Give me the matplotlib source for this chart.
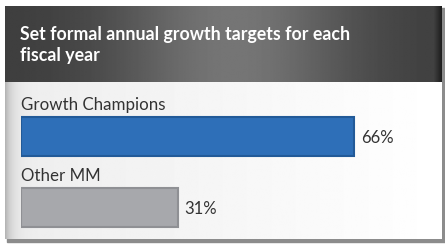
import matplotlib.pyplot as plt
import numpy as np

plt.rcParams.update({
    "font.family": ["Lato", "DejaVu Sans"],
    "figure.dpi": 100,
})

title = "Set formal annual growth targets for each\nfiscal year"
categories = ["Growth Champions", "Other MM"]
values = [66, 31]
bar_colors = ["#2e6fb8", "#a7a8ac"]
edge_colors = ["#225a98", "#8f9094"]

W, H = 445, 244
fig = plt.figure(figsize=(W / 100, H / 100), dpi=100)
fig.patch.set_facecolor("white")

# background panel drawn in pixel coordinates
bg = fig.add_axes([0, 0, 1, 1])
bg.set_xlim(0, W)
bg.set_ylim(H, 0)
bg.axis("off")

# shadow on right and bottom
bg.add_patch(plt.Rectangle((7, 8), 438, 234, color="#8c8c8c", zorder=0))

# body gradient: grey at left fading to white
xs = np.linspace(0, 1, 400)
body = np.clip(0.93 + 0.07 * xs, 0, 1)
left = np.exp(-xs * 400 / 6)
body = body - 0.22 * left
body_img = np.tile(body, (10, 1))
bg.imshow(body_img, cmap="gray", vmin=0, vmax=1, extent=(5, 442, 239, 82),
          aspect="auto", zorder=1, interpolation="bilinear")

# header gradient: dark edges, lighter middle
hx = np.linspace(-1, 1, 400)
head = 0.24 + 0.22 * np.exp(-((hx - 0.05) / 0.55) ** 2)
head[-8:] = np.linspace(head[-9], 0.12, 8)
head_img = np.tile(head, (10, 1))
bg.imshow(head_img, cmap="gray", vmin=0, vmax=1, extent=(5, 442, 82, 6),
          aspect="auto", zorder=1, interpolation="bilinear")

bg.text(20, 45, title, color="white", fontsize=12.8, fontweight="bold",
        va="center", ha="left", linespacing=1.3, zorder=3)

# bar axes: row 0 centred at y=136.5 px, row 1 at 207.5 px
px = 71.0
ax = fig.add_axes([21 / W, 1 - 240 / H, (405 - 21) / W, (240 - 90) / H])
ax.patch.set_alpha(0)
ax.set_xlim(0, 384 / 5.05)
ax.set_ylim(1 + 32.5 / px, -46.5 / px)
ax.axis("off")

ypos = np.arange(len(categories))
bar_h = 39 / px
ax.barh(ypos, values, height=bar_h, color=bar_colors, edgecolor=edge_colors,
        linewidth=1.5, zorder=2)
for y, v, c in zip(ypos, values, categories):
    ax.text(0, y - bar_h / 2 - 12 / px, c, fontsize=12.2, color="#333333",
            va="center", ha="left")
    ax.text(v + 1.3, y + 0.02, f"{v}%", fontsize=12, color="#333333",
            va="center", ha="left")

fig.savefig("out.png", dpi=100)
